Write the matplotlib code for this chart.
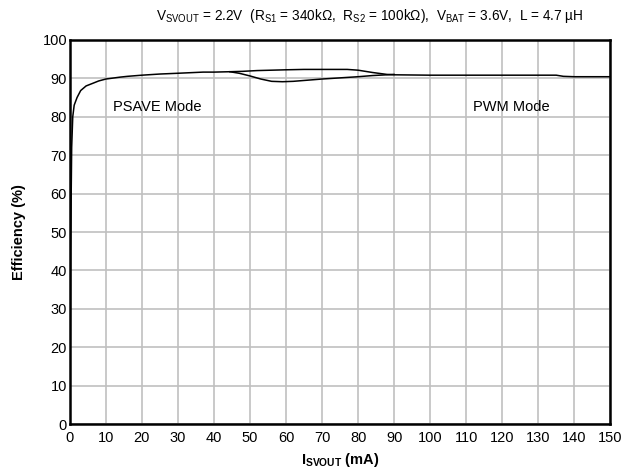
import matplotlib.pyplot as plt
import numpy as np

plt.rcParams['font.family'] = ['Liberation Sans', 'DejaVu Sans']
plt.rcParams['mathtext.fontset'] = 'custom'
plt.rcParams['mathtext.rm'] = 'Liberation Sans'
plt.rcParams['mathtext.bf'] = 'Liberation Sans:bold'

# PSAVE mode curve (mA, %)
psave_i = [0.05, 0.2, 0.5, 0.8, 1.2, 2, 3, 4.5, 6.4, 8, 10, 14, 16, 20, 25, 30, 37, 40, 44.4,
           47, 50, 53, 56, 59, 62, 66, 70, 75, 80, 84, 88, 90]
psave_eff = [5, 45, 72, 80, 83, 85, 86.8, 88, 88.7, 89.3, 89.8, 90.3, 90.5, 90.8, 91.1, 91.3,
             91.6, 91.6, 91.7, 91.3, 90.6, 89.8, 89.2, 89.1, 89.2, 89.5, 89.8, 90.1, 90.4,
             90.7, 90.9, 91.0]

# PWM mode curve (mA, %)
pwm_i = [44.4, 48, 52, 56, 60, 65, 71, 77, 80, 84, 88, 90, 100, 110, 120, 130, 135, 137, 140, 150]
pwm_eff = [91.7, 91.8, 92.0, 92.1, 92.2, 92.3, 92.3, 92.3, 92.1, 91.5, 91.0, 90.9, 90.8, 90.8,
           90.8, 90.8, 90.8, 90.5, 90.4, 90.4]

x_ticks = np.arange(0, 151, 10)
y_ticks = np.arange(0, 101, 10)

fig = plt.figure(figsize=(6.41, 4.74), dpi=100)
ax = fig.add_axes([0.109, 0.105, 0.843, 0.811])

ax.plot(psave_i, psave_eff, color='black', lw=1.1)
ax.plot(pwm_i, pwm_eff, color='black', lw=1.1)

ax.set_xlim(0, 150)
ax.set_ylim(0, 100)
ax.set_xticks(x_ticks)
ax.set_yticks(y_ticks)
ax.grid(True, color='#c0c0c0', lw=1.2)
ax.set_axisbelow(True)
ax.tick_params(length=0, labelsize=10.5)
ax.tick_params(axis='x', pad=5)
ax.tick_params(axis='y', pad=2)
for s in ax.spines.values():
    s.set_linewidth(1.8)

ax.text(12, 82.5, 'PSAVE Mode', fontsize=10.5, va='center')
ax.text(112, 82.5, 'PWM Mode', fontsize=10.5, va='center')

ax.set_xlabel(r'$\mathbf{I_{SVOUT}}$ (mA)', fontsize=10.5, fontweight='bold', labelpad=4)
ax.set_ylabel('Efficiency (%)', fontsize=10.5, fontweight='bold', labelpad=12)
fig.text(370 / 641, 1 - 16 / 474,
         r'$\mathrm{V_{SVOUT}}$ = 2.2V  ($\mathrm{R_{S1}}$ = 340kΩ,  '
         r'$\mathrm{R_{S2}}$ = 100kΩ),  $\mathrm{V_{BAT}}$ = 3.6V,  L = 4.7 µH',
         fontsize=9.8, ha='center', va='center')

fig.savefig('out.png', dpi=100)
